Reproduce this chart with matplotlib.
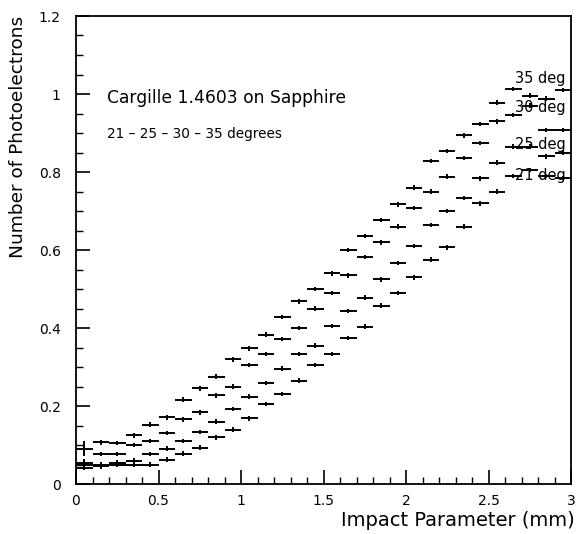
import numpy as np
import matplotlib
matplotlib.use("Agg")
import matplotlib.pyplot as plt
from matplotlib.ticker import MultipleLocator

# bin centres (impact parameter, mm)
impact = np.arange(30) * 0.1 + 0.05

# number of photoelectrons, one list per angle
deg35 = [0.091, 0.107, 0.105, 0.125, 0.152, 0.171, 0.216, 0.245, 0.275, 0.320,
         0.348, 0.383, 0.428, 0.468, 0.500, 0.540, 0.600, 0.636, 0.677, 0.717,
         0.760, 0.828, 0.854, 0.894, 0.923, 0.978, 1.013, 0.996, 0.988, 1.010]
deg30 = [0.055, 0.077, 0.077, 0.100, 0.110, 0.131, 0.166, 0.184, 0.227, 0.250,
         0.305, 0.333, 0.372, 0.400, 0.450, 0.490, 0.535, 0.582, 0.620, 0.660,
         0.708, 0.750, 0.788, 0.836, 0.874, 0.930, 0.946, 0.970, 0.908, 0.908]
deg25 = [0.048, 0.050, 0.055, 0.060, 0.077, 0.091, 0.110, 0.133, 0.160, 0.192,
         0.224, 0.259, 0.296, 0.333, 0.355, 0.405, 0.444, 0.478, 0.525, 0.567,
         0.610, 0.664, 0.700, 0.733, 0.784, 0.824, 0.865, 0.865, 0.840, 0.850]
deg21 = [0.042, 0.045, 0.050, 0.050, 0.050, 0.062, 0.078, 0.093, 0.120, 0.139,
         0.168, 0.205, 0.231, 0.265, 0.305, 0.333, 0.374, 0.403, 0.457, 0.490,
         0.530, 0.575, 0.607, 0.660, 0.720, 0.750, 0.790, 0.805, 0.790, 0.785]

series = [deg35, deg30, deg25, deg21]
first_err = [0.018, 0.010, 0.006, 0.006]
curve_labels = ["35 deg", "30 deg", "25 deg", "21 deg"]

fig = plt.figure(figsize=(5.78, 5.34), dpi=100)
ax = fig.add_axes([76 / 578, 1 - 484 / 534, 495 / 578, 468 / 534])

for vals, e0 in zip(series, first_err):
    yerr = np.full(len(vals), 0.006)
    yerr[0] = e0
    ax.errorbar(impact, vals, xerr=0.05, yerr=yerr, fmt="none",
                ecolor="black", elinewidth=1.4, capsize=0)

ax.set_xlim(0, 3)
ax.set_ylim(0, 1.2)
ax.xaxis.set_minor_locator(MultipleLocator(0.1))
ax.yaxis.set_minor_locator(MultipleLocator(0.05))
ax.set_xticks([0, 0.5, 1, 1.5, 2, 2.5, 3])
ax.set_xticklabels(["0", "0.5", "1", "1.5", "2", "2.5", "3"])
ax.set_yticks([0, 0.2, 0.4, 0.6, 0.8, 1.0, 1.2])
ax.set_yticklabels(["0", "0.2", "0.4", "0.6", "0.8", "1", "1.2"])
ax.tick_params(which="major", direction="in", length=10, width=1.2,
               labelsize=10)
ax.tick_params(axis="y", which="major", pad=11)
ax.tick_params(axis="x", which="major", pad=7)
ax.tick_params(which="minor", direction="in", length=5, width=1.0)
for s in ax.spines.values():
    s.set_linewidth(1.3)

fig.text(18 / 578, 1 - 16 / 534, "Number of Photoelectrons", rotation=90,
         ha="center", va="top", fontsize=13.3)
fig.text(575 / 578, 1 - 520 / 534, "Impact Parameter (mm)", ha="right",
         va="center", fontsize=14)

ax.text(0.19, 0.99, "Cargille 1.4603 on Sapphire", fontsize=12.3,
        ha="left", va="center")
ax.text(0.19, 0.898, "21 \u2013 25 \u2013 30 \u2013 35 degrees", fontsize=9.8,
        ha="left", va="center")

for lab, yy in zip(curve_labels, [1.04, 0.965, 0.87, 0.79]):
    ax.text(2.66, yy, lab, fontsize=10.5, ha="left", va="center")

fig.savefig("out.png", dpi=100)
